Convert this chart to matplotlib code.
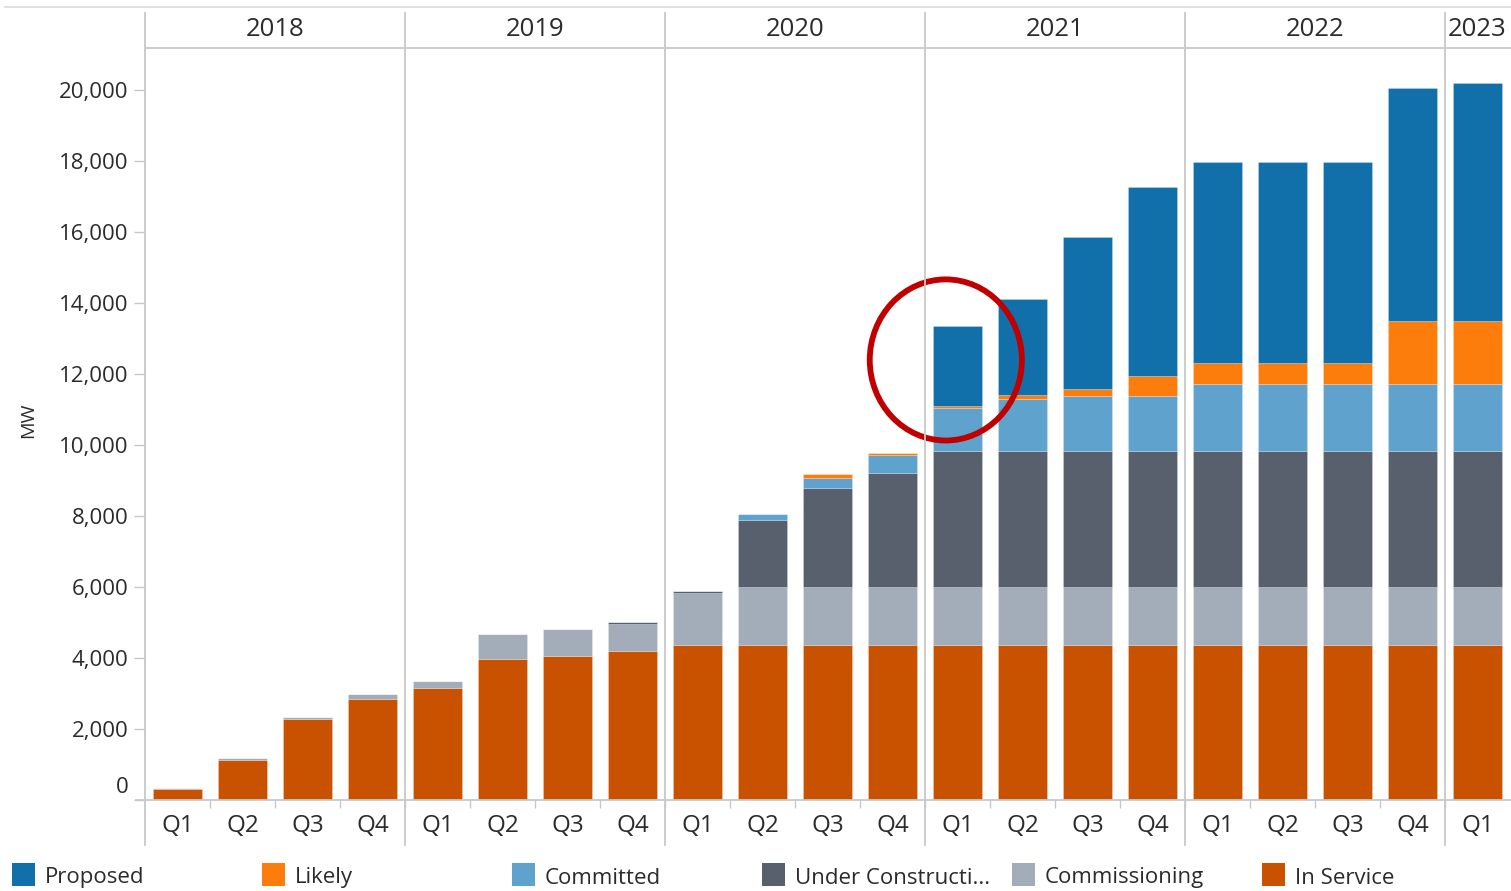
import matplotlib
matplotlib.use("Agg")
import matplotlib.pyplot as plt
import matplotlib.transforms as mtransforms
from matplotlib.lines import Line2D
from matplotlib.patches import Rectangle, Ellipse
import numpy as np

# ---------------- data ----------------
years = ['2018', '2019', '2020', '2021', '2022', '2023']
quarters_per_year = [4, 4, 4, 4, 4, 1]
quarter_labels = ['Q1', 'Q2', 'Q3', 'Q4'] * 5 + ['Q1']

series_names = ['Proposed', 'Likely', 'Committed', 'Under Constructi...', 'Commissioning', 'In Service']
series_colors = ['#1170aa', '#fc7d0b', '#5fa2ce', '#57606c', '#a3acb9', '#c85200']

in_service = [300, 1130, 2290, 2860,
              3150, 3960, 4060, 4210,
              4360, 4360, 4360, 4360,
              4360, 4360, 4360, 4360,
              4360, 4360, 4360, 4360,
              4360]
commissioning = [50, 40, 40, 140,
                 200, 730, 770, 750,
                 1480, 1630, 1630, 1630,
                 1630, 1630, 1630, 1630,
                 1630, 1630, 1630, 1630,
                 1630]
under_construction = [0, 0, 0, 0,
                      0, 0, 0, 50,
                      60, 1890, 2800, 3230,
                      3850, 3850, 3850, 3850,
                      3850, 3850, 3850, 3850,
                      3850]
committed = [0, 0, 0, 0,
             0, 0, 0, 0,
             0, 180, 290, 490,
             1210, 1455, 1550, 1550,
             1890, 1890, 1890, 1890,
             1890]
likely = [0, 0, 0, 0,
          0, 0, 0, 0,
          0, 0, 95, 80,
          50, 105, 195, 570,
          570, 570, 570, 1780,
          1780]
proposed = [0, 0, 0, 0,
            0, 0, 0, 0,
            0, 0, 0, 0,
            2260, 2730, 4275, 5310,
            5690, 5690, 5690, 6545,
            6700]

y_ticks = [0, 2000, 4000, 6000, 8000, 10000, 12000, 14000, 16000, 18000, 20000]

# ---------------- figure ----------------
W, H = 1511, 891
fig = plt.figure(figsize=(W / 100, H / 100), dpi=100)
plt.rcParams['font.family'] = ['Open Sans', 'DejaVu Sans']

def fx(px):
    return px / W

def fy(py):
    return 1 - py / H

ax_left, ax_right, ax_top, ax_bottom = 145, 1510, 48, 800
ax = fig.add_axes([fx(ax_left), fy(ax_bottom), fx(ax_right) - fx(ax_left), fy(ax_top) - fy(ax_bottom)])

n = len(quarter_labels)
x = np.arange(n) + 0.5
ymax = 21190
ax.set_xlim(0, n)
ax.set_ylim(0, ymax)

stack_order = [
    (in_service, series_colors[5]),
    (commissioning, series_colors[4]),
    (under_construction, series_colors[3]),
    (committed, series_colors[2]),
    (likely, series_colors[1]),
    (proposed, series_colors[0]),
]
bottom = np.zeros(n)
for vals, col in stack_order:
    v = np.array(vals, dtype=float)
    ax.bar(x, v, width=0.74, bottom=bottom, color=col, edgecolor=(1, 1, 1, 0.3),
           linewidth=0.5, zorder=3)
    bottom += v

# annotation circle
ell = Ellipse((12.32, 12400), width=2.34, height=4540, fill=False,
              edgecolor='#c00000', linewidth=4.2, zorder=5, clip_on=False)
ax.add_patch(ell)

for s in ax.spines.values():
    s.set_visible(False)

text_color = '#2b2b2b'
line_color = '#c8c8c8'

ax.set_yticks(y_ticks)
ax.set_yticklabels([f'{v:,}' for v in y_ticks], fontsize=16, color=text_color)
ax.tick_params(axis='y', length=8, width=1, color=line_color, pad=4)
# nudge "0" label upward as in reference
for lbl in ax.get_yticklabels():
    if lbl.get_text() == '0':
        lbl.set_transform(lbl.get_transform() + mtransforms.ScaledTranslation(0, 15 / 100, fig.dpi_scale_trans))

ax.set_xticks(x)
ax.set_xticklabels(quarter_labels, fontsize=17.5, color=text_color)
ax.tick_params(axis='x', length=0, pad=10)
ax.set_xticks(np.arange(1, n), minor=True)
ax.tick_params(axis='x', which='minor', length=6, width=1, color=line_color)

fig.text(fx(28), fy(420), 'MW', rotation=90, ha='center', va='center', fontsize=14, color=text_color)

blend = mtransforms.blended_transform_factory(ax.transData, fig.transFigure)

# year separators + header
boundaries = np.concatenate([[0], np.cumsum(quarters_per_year)])
for b in boundaries[:-1]:
    fig.add_artist(Line2D([b, b], [fy(13), fy(845)], transform=blend, color=line_color, lw=1.3, zorder=1))
for i, yr in enumerate(years):
    c = (boundaries[i] + boundaries[i + 1]) / 2
    fig.text(c, fy(30), yr, transform=blend, ha='center', va='center', fontsize=18.5, color=text_color)

# horizontal lines
fig.add_artist(Line2D([fx(ax_left), 1], [fy(ax_top), fy(ax_top)], color=line_color, lw=1.3))
fig.add_artist(Line2D([fx(5), 1], [fy(7), fy(7)], color='#dddddd', lw=1.3))
fig.add_artist(Line2D([fx(136), 1], [fy(ax_bottom), fy(ax_bottom)], color=line_color, lw=1.3))

# legend
leg_x0 = 12
leg_step = 250
for i, (name, col) in enumerate(zip(series_names, series_colors)):
    lx = leg_x0 + i * leg_step
    fig.add_artist(Rectangle((fx(lx), fy(886)), fx(23), fy(863) - fy(886), transform=fig.transFigure,
                             facecolor=col, edgecolor='none'))
    fig.text(fx(lx + 33), fy(878), name, ha='left', va='center', fontsize=16, color=text_color)

fig.savefig('out.png', dpi=100)
